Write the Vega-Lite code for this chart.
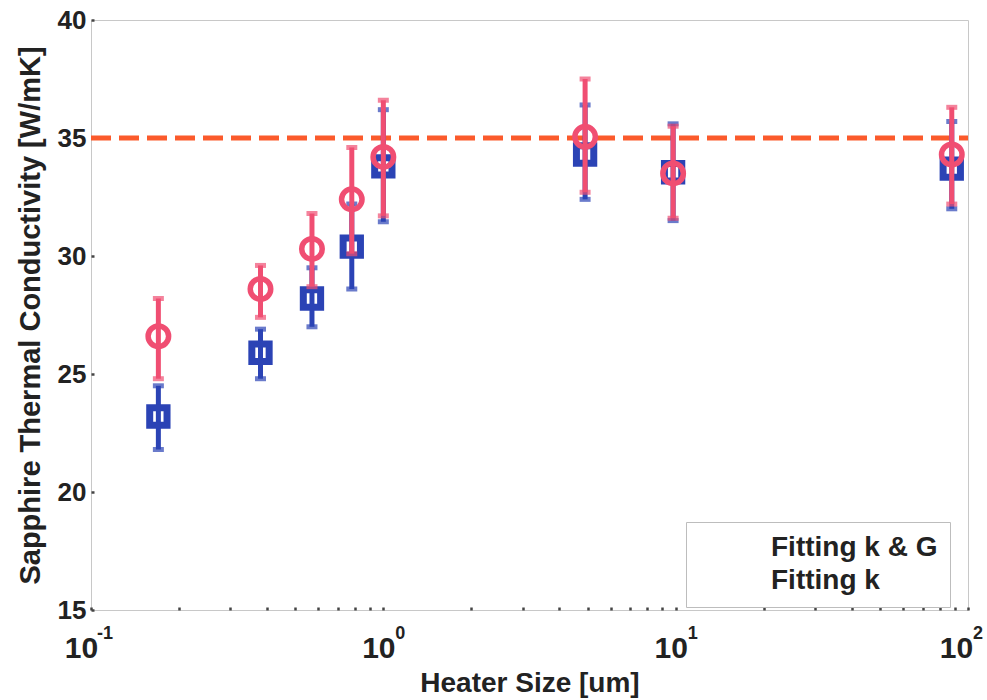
{
  "$schema": "https://vega.github.io/schema/vega-lite/v6.json",
  "width": 877,
  "height": 590,
  "autosize": {"type": "none"},
  "padding": {"left": 91, "top": 20, "right": 19, "bottom": 90},
  "background": "white",
  "config": {
    "view": {"stroke": "#c8c8c8", "strokeWidth": 1},
    "font": "Liberation Sans",
    "axis": {
      "labelFont": "Liberation Sans",
      "titleFont": "Liberation Sans",
      "labelFontWeight": "bold",
      "titleFontWeight": "bold",
      "labelColor": "#222222",
      "titleColor": "#222222",
      "grid": false,
      "domain": false,
      "tickColor": "#444444",
      "tickSize": -3,
      "tickWidth": 2.5
    }
  },
  "datasets": {
    "measurements": [
      {"size": 0.17, "k": 23.2, "lo": 21.8, "hi": 24.5, "series": "Fitting k & G"},
      {"size": 0.38, "k": 25.9, "lo": 24.8, "hi": 26.9, "series": "Fitting k & G"},
      {"size": 0.57, "k": 28.2, "lo": 27.0, "hi": 29.5, "series": "Fitting k & G"},
      {"size": 0.78, "k": 30.4, "lo": 28.6, "hi": 32.2, "series": "Fitting k & G"},
      {"size": 1.0, "k": 33.8, "lo": 31.45, "hi": 36.2, "series": "Fitting k & G"},
      {"size": 4.9, "k": 34.3, "lo": 32.4, "hi": 36.4, "series": "Fitting k & G"},
      {"size": 9.8, "k": 33.55, "lo": 31.5, "hi": 35.6, "series": "Fitting k & G"},
      {"size": 88, "k": 33.7, "lo": 32.0, "hi": 35.7, "series": "Fitting k & G"},
      {"size": 0.17, "k": 26.6, "lo": 24.8, "hi": 28.2, "series": "Fitting k"},
      {"size": 0.38, "k": 28.6, "lo": 27.4, "hi": 29.6, "series": "Fitting k"},
      {"size": 0.57, "k": 30.3, "lo": 28.7, "hi": 31.8, "series": "Fitting k"},
      {"size": 0.78, "k": 32.4, "lo": 30.1, "hi": 34.6, "series": "Fitting k"},
      {"size": 1.0, "k": 34.2, "lo": 31.7, "hi": 36.6, "series": "Fitting k"},
      {"size": 4.9, "k": 35.05, "lo": 32.7, "hi": 37.5, "series": "Fitting k"},
      {"size": 9.8, "k": 33.5, "lo": 31.6, "hi": 35.5, "series": "Fitting k"},
      {"size": 88, "k": 34.3, "lo": 32.2, "hi": 36.3, "series": "Fitting k"}
    ],
    "bulk": [
      {"size": 0.1, "k": 35},
      {"size": 100, "k": 35}
    ],
    "decades": [
      {"size": 0.1, "k": 15, "exp": "-1"},
      {"size": 1, "k": 15, "exp": "0"},
      {"size": 10, "k": 15, "exp": "1"},
      {"size": 100, "k": 15, "exp": "2"}
    ]
  },
  "layer": [
    {
      "data": {"name": "bulk"},
      "mark": {"type": "line", "color": "#fb5a2b", "strokeWidth": 5, "strokeDash": [20, 8]},
      "encoding": {
        "x": {
          "field": "size", "type": "quantitative",
          "scale": {"type": "log", "domain": [0.1, 100], "nice": false},
          "axis": {
            "orient": "bottom",
            "title": "Heater Size [um]",
            "titleFontSize": 28,
            "titlePadding": 6,
            "labelFontSize": 30,
            "labelPadding": 26,
            "labelFlush": false,
            "labelOffset": {"condition": [{"test": "datum.value == 0.1", "value": -10}, {"test": "datum.value == 100", "value": -12}], "value": -5},
            "values": [0.1, 0.2, 0.3, 0.4, 0.5, 0.6, 0.7, 0.8, 0.9, 1, 2, 3, 4, 5, 6, 7, 8, 9, 10, 20, 30, 40, 50, 60, 70, 80, 90, 100],
            "labelExpr": "datum.value == 0.1 || datum.value == 1 || datum.value == 10 || datum.value == 100 ? '10' : ''"
          }
        },
        "y": {
          "field": "k", "type": "quantitative",
          "scale": {"domain": [15, 40], "nice": false, "zero": false},
          "axis": {
            "title": "Sapphire Thermal Conductivity [W/mK]",
            "titleFontSize": 29,
            "titlePadding": 12,
            "labelFontSize": 26,
            "labelPadding": 8,
            "values": [15, 20, 25, 30, 35, 40]
          }
        }
      }
    },
    {
      "data": {"name": "decades"},
      "encoding": {
        "x": {"field": "size", "type": "quantitative"},
        "y": {"field": "k", "type": "quantitative"},
        "text": {"field": "exp"}
      },
      "layer": [
        {
          "transform": [{"filter": "datum.exp == '-1'"}],
          "mark": {"type": "text", "align": "left", "baseline": "middle", "dx": 6, "dy": 24, "fontSize": 18, "fontWeight": "bold", "font": "Liberation Sans", "color": "#222222"}
        },
        {
          "transform": [{"filter": "datum.exp == '0' || datum.exp == '1'"}],
          "mark": {"type": "text", "align": "left", "baseline": "middle", "dx": 12, "dy": 24, "fontSize": 18, "fontWeight": "bold", "font": "Liberation Sans", "color": "#222222"}
        },
        {
          "transform": [{"filter": "datum.exp == '2'"}],
          "mark": {"type": "text", "align": "left", "baseline": "middle", "dx": 5, "dy": 24, "fontSize": 18, "fontWeight": "bold", "font": "Liberation Sans", "color": "#222222"}
        }
      ]
    },
    {
      "data": {"name": "measurements"},
      "transform": [{"filter": "datum.series == 'Fitting k & G'"}],
      "layer": [
        {"mark": {"type": "rule", "strokeWidth": 5}, "encoding": {"y": {"field": "lo", "type": "quantitative"}, "y2": {"field": "hi"}}},
        {"mark": {"type": "tick", "orient": "horizontal", "thickness": 5, "size": 11}, "encoding": {"y": {"field": "lo", "type": "quantitative"}}},
        {"mark": {"type": "tick", "orient": "horizontal", "thickness": 5, "size": 11}, "encoding": {"y": {"field": "hi", "type": "quantitative"}}},
        {"mark": {"type": "point", "shape": "square", "filled": false, "strokeWidth": 7, "size": 300, "opacity": 1}, "encoding": {"y": {"field": "k", "type": "quantitative"}}}
      ],
      "encoding": {
        "x": {"field": "size", "type": "quantitative"},
        "color": {
          "field": "series", "type": "nominal",
          "scale": {"domain": ["Fitting k & G", "Fitting k"], "range": ["#2b43b5", "#f04e72"]},
          "legend": {
            "title": null,
            "orient": "none",
            "legendX": 595,
            "legendY": 502,
            "padding": 12,
            "strokeColor": "#bdbdbd",
            "fillColor": "white",
            "labelFont": "Liberation Sans",
            "labelFontWeight": "bold",
            "labelFontSize": 28,
            "labelColor": "#222222",
            "labelLimit": 400,
            "labelOffset": 45,
            "rowPadding": 5,
            "symbolSize": 100,
            "symbolOpacity": 0,
            "symbolStrokeWidth": 0
          }
        }
      }
    },
    {
      "data": {"name": "measurements"},
      "transform": [{"filter": "datum.series == 'Fitting k'"}],
      "layer": [
        {"mark": {"type": "rule", "strokeWidth": 5}, "encoding": {"y": {"field": "lo", "type": "quantitative"}, "y2": {"field": "hi"}}},
        {"mark": {"type": "tick", "orient": "horizontal", "thickness": 5, "size": 11}, "encoding": {"y": {"field": "lo", "type": "quantitative"}}},
        {"mark": {"type": "tick", "orient": "horizontal", "thickness": 5, "size": 11}, "encoding": {"y": {"field": "hi", "type": "quantitative"}}},
        {"mark": {"type": "point", "shape": "circle", "filled": false, "strokeWidth": 5.5, "size": 420, "opacity": 1}, "encoding": {"y": {"field": "k", "type": "quantitative"}}}
      ],
      "encoding": {
        "x": {"field": "size", "type": "quantitative"},
        "color": {"field": "series", "type": "nominal"}
      }
    }
  ]
}
